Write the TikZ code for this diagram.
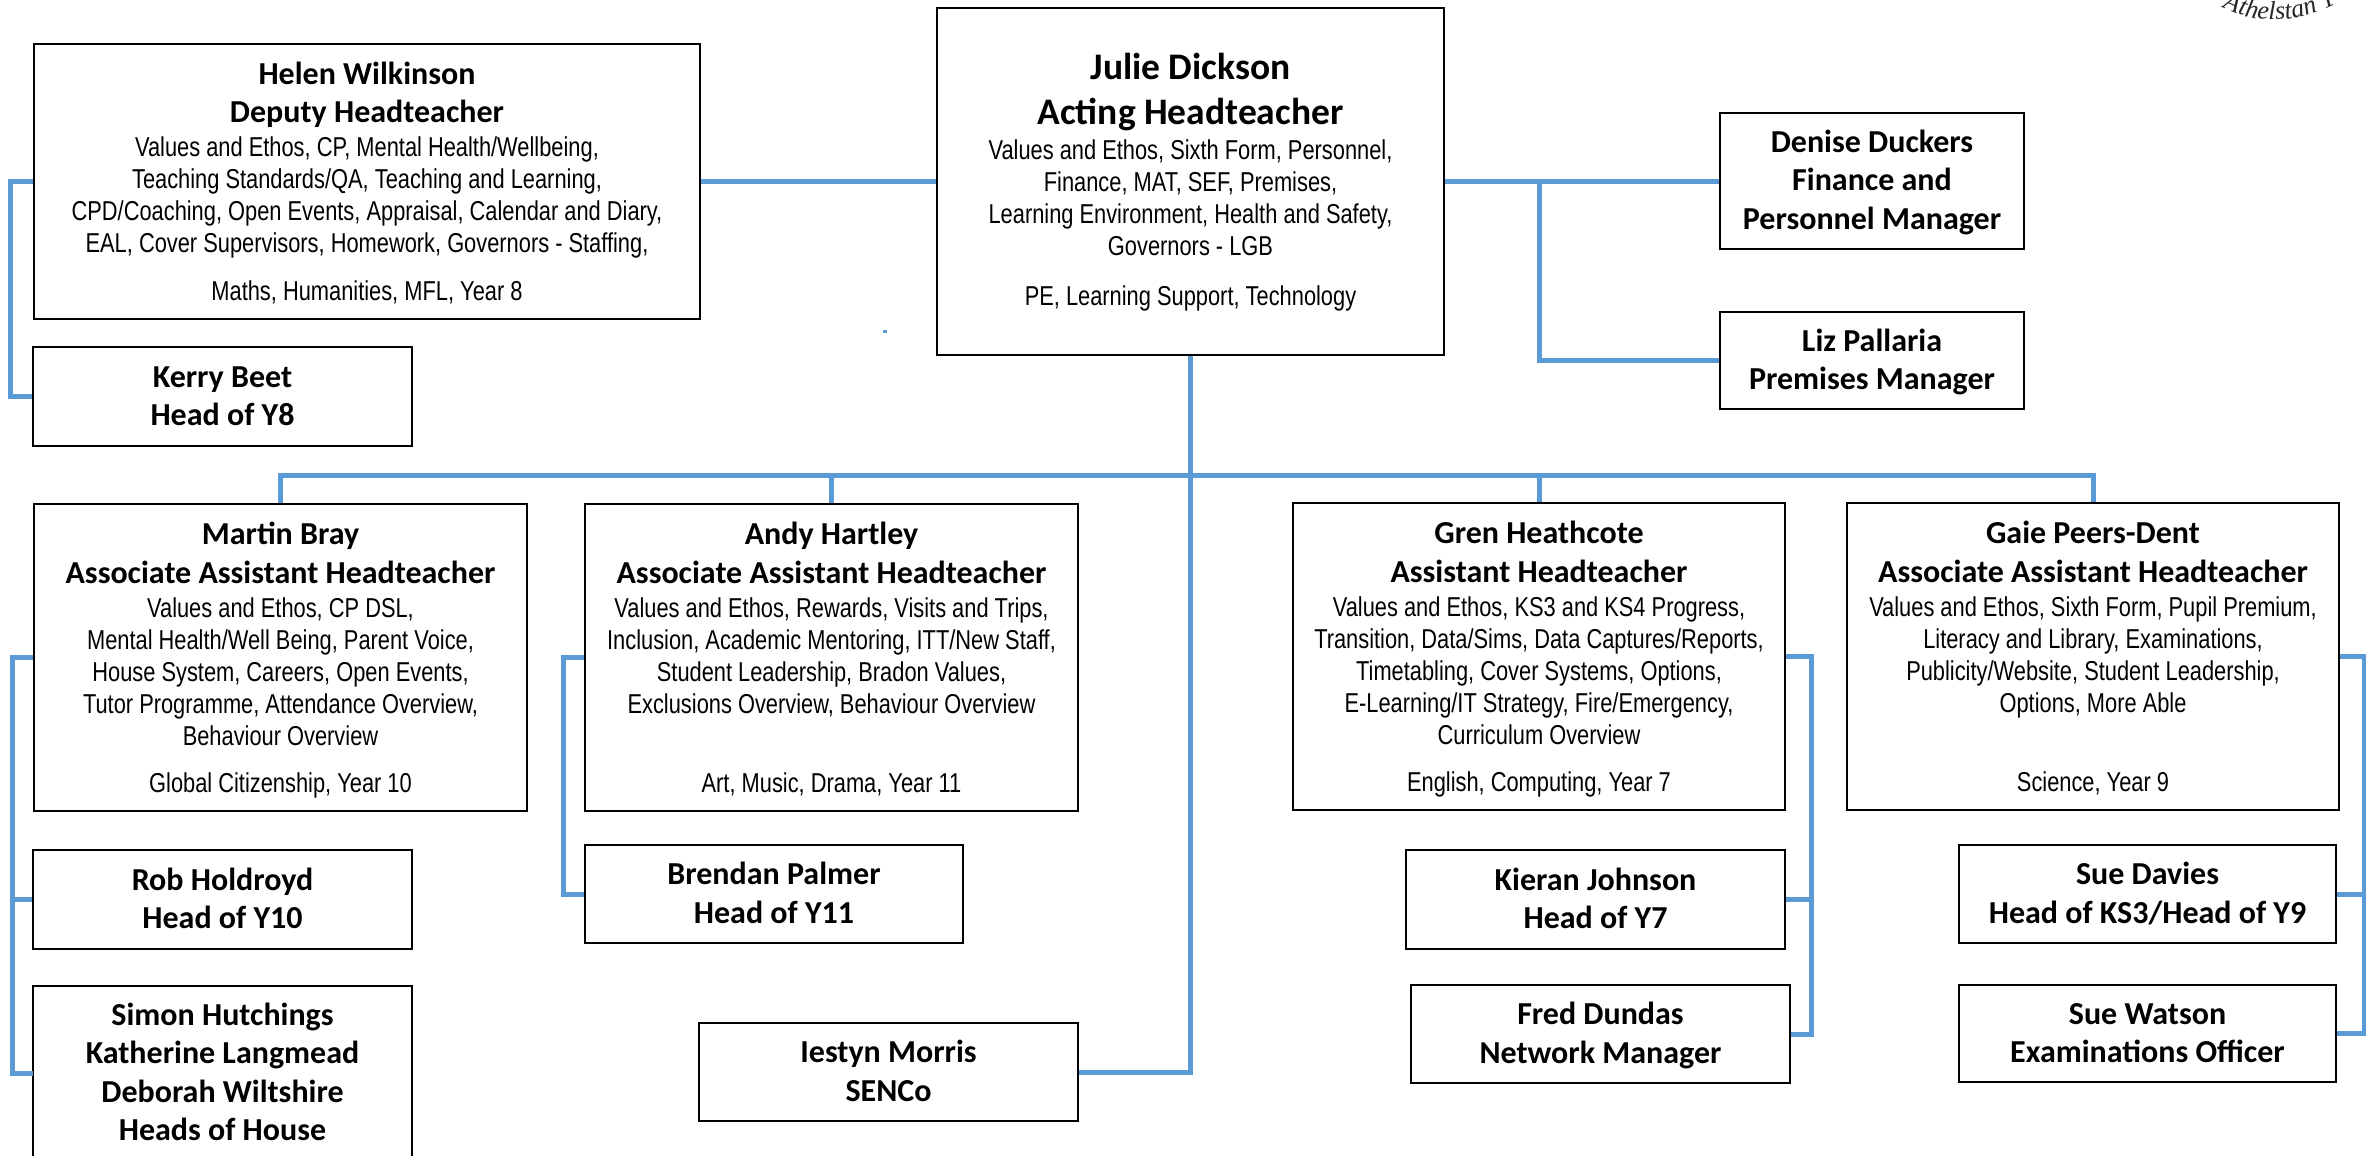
\documentclass[tikz,border=0pt]{standalone}
\usepackage{fontspec}
\usetikzlibrary{decorations.text}
\setmainfont{Carlito}
\newfontfamily\narrowfont[FakeStretch=0.8]{Liberation Sans}
\newfontfamily\handfont{Liberation Serif}
\newcommand{\hd}[1]{{\fontsize{32}{38}\selectfont\bfseries\rule[-9.5pt]{0pt}{38.5pt}#1}}
\newcommand{\bighd}[1]{{\fontsize{37.5}{45}\selectfont\bfseries\rule[-10.5pt]{0pt}{45pt}#1}}
\newcommand{\bd}[1]{{\fontsize{27.3}{32}\selectfont\narrowfont\rule[-7.5pt]{0pt}{32pt}#1}}
\newcommand{\tailgap}[1]{\rule[-#1pt]{0pt}{#1pt}}
\definecolor{linkblue}{HTML}{5B9BD5}
\tikzset{
  orgbox/.style={draw=black,line width=2.6pt,inner sep=0pt,align=center,anchor=center,fill=white,
    font={\baselineskip=0pt\lineskip=0pt\lineskiplimit=0pt}},
  link/.style={draw=linkblue,line width=5pt},
}
% name, left, top, right, bottom, text
\newcommand{\orgnode}[6]{%
  \pgfmathsetmacro{\orgW}{#4-#2}\pgfmathsetmacro{\orgH}{#5-#3}%
  \pgfmathsetmacro{\orgX}{(#2+#4)/2}\pgfmathsetmacro{\orgY}{(#3+#5)/2}%
  \node[orgbox,minimum width=\orgW pt,minimum height=\orgH pt] (#1) at (\orgX,\orgY) {#6};}
\begin{document}
\begin{tikzpicture}[x=1pt,y=-1pt]
\useasboundingbox (0,0) rectangle (2366,1156);
\clip (0,0) rectangle (2366,1156);
\orgnode{julie}{937}{8}{1444}{355}{\bighd{Julie Dickson}\\\bighd{Acting Headteacher}\\\bd{Values and Ethos, Sixth Form, Personnel,}\\\bd{Finance, MAT, SEF, Premises,}\\\bd{Learning Environment, Health and Safety,}\\\bd{Governors - LGB}\\[18pt]\bd{PE, Learning Support, Technology}\tailgap{13.5}}
\orgnode{helen}{34}{44}{700}{319}{\hd{Helen Wilkinson}\\\hd{Deputy Headteacher}\\\bd{Values and Ethos, CP, Mental Health/Wellbeing,}\\\bd{Teaching Standards/QA, Teaching and Learning,}\\\bd{CPD/Coaching, Open Events, Appraisal, Calendar and Diary,}\\\bd{EAL, Cover Supervisors, Homework, Governors - Staffing,}\\[16pt]\bd{Maths, Humanities, MFL, Year 8}}
\orgnode{kerry}{33}{347}{412}{446}{\hd{Kerry Beet}\\\hd{Head of Y8}}
\orgnode{denise}{1720}{113}{2024}{249}{\hd{Denise Duckers}\\\hd{Finance and}\\\hd{Personnel Manager}}
\orgnode{liz}{1720}{312}{2024}{409}{\hd{Liz Pallaria}\\\hd{Premises Manager}}
\orgnode{martin}{34}{504}{527}{811}{\hd{Martin Bray}\\\hd{Associate Assistant Headteacher}\\\bd{Values and Ethos, CP DSL,}\\\bd{Mental Health/Well Being, Parent Voice,}\\\bd{House System, Careers, Open Events,}\\\bd{Tutor Programme, Attendance Overview,}\\\bd{Behaviour Overview}\\[15pt]\bd{Global Citizenship, Year 10}}
\orgnode{andy}{585}{504}{1078}{811}{\hd{Andy Hartley}\\\hd{Associate Assistant Headteacher}\\\bd{Values and Ethos, Rewards, Visits and Trips,}\\\bd{Inclusion, Academic Mentoring, ITT/New Staff,}\\\bd{Student Leadership, Bradon Values,}\\\bd{Exclusions Overview, Behaviour Overview}\\[47pt]\bd{Art, Music, Drama, Year 11}}
\orgnode{gren}{1293}{503}{1785}{810}{\hd{Gren Heathcote}\\\hd{Assistant Headteacher}\\\bd{Values and Ethos, KS3 and KS4 Progress,}\\\bd{Transition, Data/Sims, Data Captures/Reports,}\\\bd{Timetabling, Cover Systems, Options,}\\\bd{E-Learning/IT Strategy, Fire/Emergency,}\\\bd{Curriculum Overview}\\[15pt]\bd{English, Computing, Year 7}}
\orgnode{gaie}{1847}{503}{2339}{810}{\hd{Gaie Peers-Dent}\\\hd{Associate Assistant Headteacher}\\\bd{Values and Ethos, Sixth Form, Pupil Premium,}\\\bd{Literacy and Library, Examinations,}\\\bd{Publicity/Website, Student Leadership,}\\\bd{Options, More Able}\\[47pt]\bd{Science, Year 9}}
\orgnode{rob}{33}{850}{412}{949}{\hd{Rob Holdroyd}\\\hd{Head of Y10}}
\orgnode{simon}{33}{986}{412}{1160}{\hd{Simon Hutchings}\\\hd{Katherine Langmead}\\\hd{Deborah Wiltshire}\\\hd{Heads of House}}
\orgnode{brendan}{585}{845}{963}{943}{\hd{Brendan Palmer}\\\hd{Head of Y11}}
\orgnode{iestyn}{699}{1023}{1078}{1121}{\hd{Iestyn Morris}\\\hd{SENCo}}
\orgnode{kieran}{1406}{850}{1785}{949}{\hd{Kieran Johnson}\\\hd{Head of Y7}}
\orgnode{fred}{1411}{985}{1790}{1083}{\hd{Fred Dundas}\\\hd{Network Manager}}
\orgnode{sued}{1959}{845}{2336}{943}{\hd{Sue Davies}\\\hd{Head of KS3/Head of Y9}}
\orgnode{suew}{1959}{985}{2336}{1082}{\hd{Sue Watson}\\\hd{Examinations Officer}}
% rails and junctions
\coordinate (railH) at (10,0);
\coordinate (railM) at (12,0);
\coordinate (railA) at (563,0);
\coordinate (railG) at (1811,0);
\coordinate (railP) at (2364,0);
\coordinate (railF) at (1539,0);
\coordinate (busY) at (0,475);
\coordinate (bus) at (julie.south |- busY);
\coordinate (simonJ) at (33,1073);
% connectors
\draw[link] (helen.east) -- (julie.west);
\draw[link] (julie.east) -- (denise.west |- julie.east);
\draw[link] (railF |- julie.east) |- (liz.west);
\draw[link] (julie.south) |- (iestyn.east);
\draw[link] (martin.north) |- (bus) -| (gaie.north);
\draw[link] (andy.north) -- (andy.north |- bus);
\draw[link] (gren.north) -- (gren.north |- bus);
\draw[link] (helen.west) -- (helen.west -| railH) |- (kerry.west);
\draw[link] (martin.west) -- (martin.west -| railM) |- (simonJ);
\draw[link] (rob.west) -- (rob.west -| railM);
\draw[link] (andy.west) -- (andy.west -| railA) |- (brendan.west);
\draw[link] (gren.east) -- (gren.east -| railG) |- (fred.east);
\draw[link] (kieran.east) -- (kieran.east -| railG);
\draw[link] (gaie.east) -- (gaie.east -| railP) |- (suew.east);
\draw[link] (sued.east) -- (sued.east -| railP);
% stray speck
\fill[linkblue] (883,330) rectangle (887,333);
% partly cropped logo lettering
\path[decorate,decoration={text along path,text align=center,text={|\fontsize{26}{26}\handfont\itshape\selectfont\color{black!85}|Athelstan T}}]
  (2215,3) .. controls (2250,25) and (2295,27) .. (2345,-1);
\end{tikzpicture}
\end{document}
